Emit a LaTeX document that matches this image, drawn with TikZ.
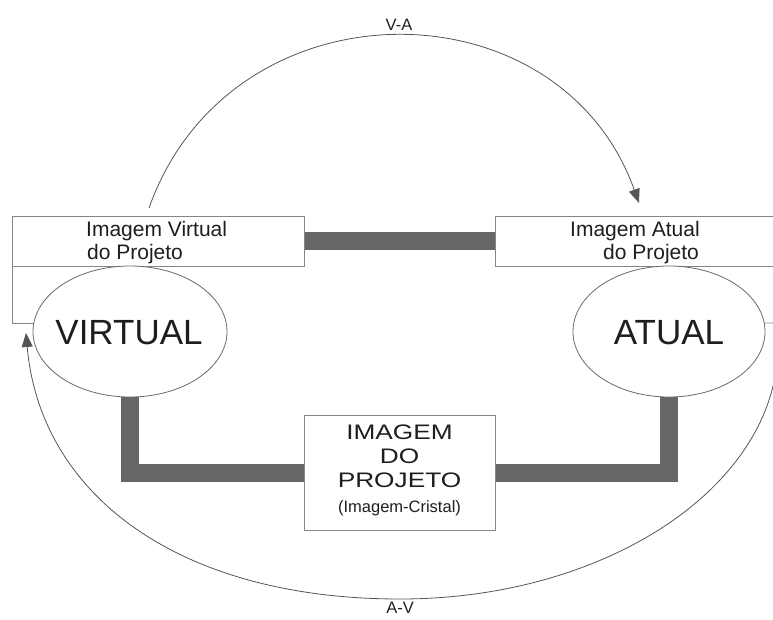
\documentclass[tikz,border=0pt]{standalone}
\usepackage{fontspec}
\setmainfont{Liberation Sans}
\newfontfamily\widesans[FakeStretch=1.25]{Liberation Sans}
\usetikzlibrary{arrows.meta,backgrounds,shapes.geometric}
\definecolor{barcol}{HTML}{666666}
\definecolor{framecol}{HTML}{858585}
\definecolor{ovalcol}{HTML}{6A6A6A}
\definecolor{curvecol}{HTML}{555555}
\definecolor{inkcol}{HTML}{1E1E1E}
\begin{document}
\begin{tikzpicture}[x=1pt,y=-1pt,
  frame/.style={draw=framecol,line width=0.8pt,fill=white,inner sep=0pt,
    anchor=north west,minimum width=292pt,minimum height=50pt},
  oval/.style={ellipse,draw=ovalcol,line width=0.8pt,fill=white,inner sep=0pt,
    minimum height=131pt},
  poletxt/.style={text=inkcol,inner sep=0pt,anchor=base,
    font=\fontsize{35}{40}\selectfont},
  crystal/.style={draw=framecol,line width=0.8pt,fill=white,
    minimum width=191pt,minimum height=115pt},
  bar/.style={draw=barcol,line width=18pt},
  edge/.style={draw=framecol,line width=0.8pt},
  flow/.style={draw=curvecol,line width=0.8pt,-{Triangle[length=14pt,width=11pt]}},
  lbl/.style={text=inkcol,inner sep=0pt,anchor=base west,
    font=\fontsize{21}{24}\selectfont},
  boxtxt/.style={text=inkcol,inner sep=0pt,anchor=base,
    font=\widesans\fontsize{21}{24}\selectfont},
  subtxt/.style={text=inkcol,inner sep=0pt,anchor=base,
    font=\fontsize{16.5}{20}\selectfont},
  tag/.style={text=inkcol,inner sep=0pt,anchor=base,
    font=\fontsize{16.5}{20}\selectfont}]
\useasboundingbox (0,0) rectangle (773,619);

% frames holding the two project images
\node[frame] (rv) at (12,216) {};
\node[frame] (ra) at (495,216) {};

% the two poles
\node[oval,minimum width=194pt] (virt) at (130,331.5) {};
\node[oval,minimum width=192pt] (atual) at (669,331.5) {};
\node[poletxt] (virtxt) at (129,344) {VIRTUAL};
\node[poletxt] (atutxt) at (669,344) {ATUAL};

% central crystal image
\node[crystal] (img) at (399.5,472.5) {};
\node[boxtxt] (t1) at (399.5,439) {IMAGEM};
\node[boxtxt] (t2) at (399.5,463) {DO};
\node[boxtxt] (t3) at (399.5,487) {PROJETO};
\node[subtxt] (t4) at (399.5,512) {(Imagem-Cristal)};

% frame captions
\node[lbl] (tv1) at (86,236) {Imagem Virtual};
\node[lbl] (tv2) at (87,259.5) {do Projeto};
\node[lbl] (ta1) at (570,236) {Imagem Atual};
\node[lbl] (ta2) at (603,259.5) {do Projeto};

% free ends of the lines
\coordinate (lc) at (12,323);
\coordinate (rc) at (787,323);
\coordinate (va1) at (149,208);
\coordinate (va2) at (639,203);
\coordinate (av1) at (778,345);
\coordinate (avm) at (400,599);
\coordinate (av2) at (26,333);

\begin{scope}[on background layer]
  \draw[bar] (rv.east) -- (ra.west);
  \draw[bar] (virt.center) |- (img.west);
  \draw[bar] (atual.center) |- (img.east);
  \draw[edge] (rv.south west) -- (lc) -- (lc -| virt.center);
  \draw[edge] (ra.south east) -- (rc) -- (rc -| atual.center);
\end{scope}

% transitions
\draw[flow] (va1) .. controls (230,-20.5) and (559,-20.5) .. (va2);
\draw[flow] (av1) .. controls (778,485) and (608,599) .. (avm)
  .. controls (176,599) and (40,493) .. (av2);
\node[tag] (va) at (399,30) {V-A};
\node[tag] (av) at (400,613) {A-V};
\end{tikzpicture}
\end{document}
